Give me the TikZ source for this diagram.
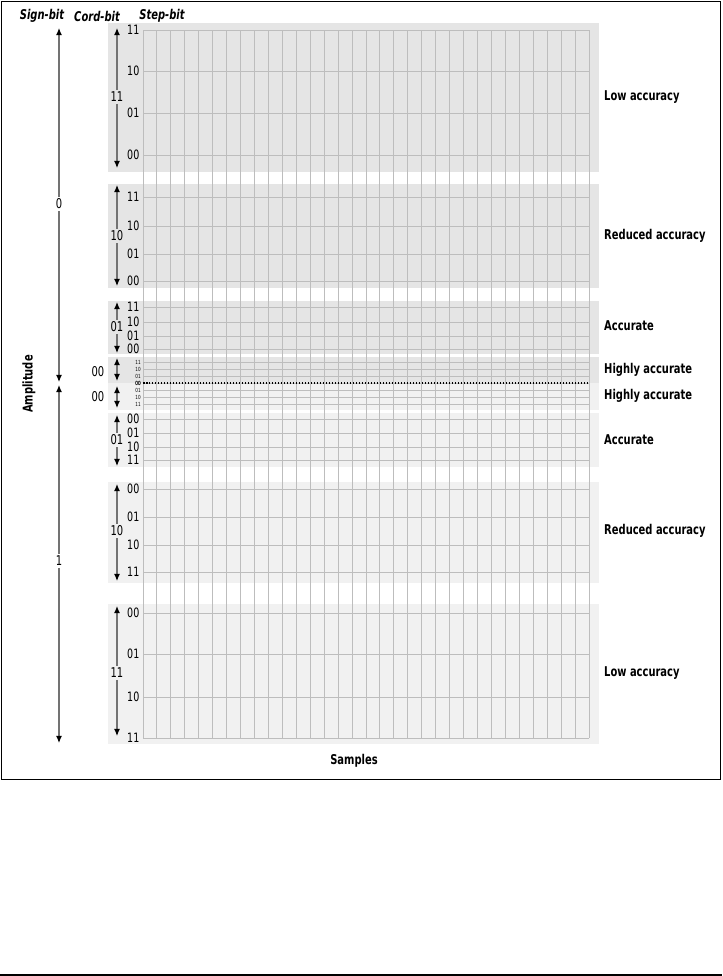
\documentclass[tikz,border=0pt]{standalone}
\usepackage{fontspec}
\newfontfamily\cndfont[FakeStretch=0.82,
  BoldFont={DejaVu Sans Condensed Bold},
  ItalicFont={DejaVu Sans Condensed Oblique},
  BoldItalicFont={DejaVu Sans Condensed Bold Oblique}]{DejaVu Sans Condensed}
\usetikzlibrary{arrows.meta}
\definecolor{bandhi}{gray}{0.9}
\definecolor{bandlo}{gray}{0.945}
\definecolor{gridcol}{gray}{0.74}
\definecolor{arrowcol}{gray}{0.45}

\begin{document}
\begin{tikzpicture}[x=0.03cm, y=-0.03cm, font=\cndfont,
    gridline/.style={gridcol, line width=0.8pt},
    scalearrow/.style={arrowcol, line width=0.9pt, -{Latex[length=6pt,width=5pt,black]}},
    twoway/.style={arrowcol, line width=0.9pt, {Latex[length=6pt,width=5pt,black]}-{Latex[length=6pt,width=5pt,black]}},
    bitlabel/.style={font=\cndfont\fontsize{11.5}{12}\selectfont, inner sep=1.5pt},
    steplabel/.style={font=\cndfont\fontsize{11}{12}\selectfont, inner sep=0pt, anchor=west},
    tinylabel/.style={font=\cndfont\fontsize{4.8}{5}\selectfont, inner sep=0pt, anchor=east},
    acclabel/.style={font=\cndfont\bfseries\fontsize{11.5}{12}\selectfont, inner sep=0pt, anchor=west},
    headlabel/.style={font=\cndfont\bfseries\itshape\fontsize{11.5}{12}\selectfont, inner sep=0pt}]
    \useasboundingbox (0,0) rectangle (722,976);

    % frame
    \draw[line width=0.9pt] (1.5,1.5) rectangle (720.5,779.5);
    \draw[line width=0.9pt] (0,975) -- (722,975);

    % grey bands
    \foreach \top/\bot/\col in {23/172/bandhi, 184/288/bandhi, 301/354/bandhi, 357/383/bandhi,
        383/410/bandlo, 413/467/bandlo, 482/583/bandlo, 604/744/bandlo}
        \fill[\col] (108,\top) rectangle (599,\bot);

    % samples grid
    \foreach \k in {0,...,32}
        \draw[gridline] ({143+\k*13.9375},30) -- ({143+\k*13.9375},738);
    \foreach \y/\lab [count=\n] in {30/11, 71/10, 113/01, 155/00, 197/11, 226/10, 254/01, 281/00,
        307/11, 322/10, 336/01, 349/00, 419/00, 433/01, 447/10, 460/11,
        489/00, 517/01, 545/10, 572/11, 613/00, 654/01, 697/10, 738/11} {
        \draw[gridline] (143,\y) -- (589,\y);
        \node[steplabel] (step\n) at (127,\y) {\lab};
    }
    \foreach \y/\lab [count=\n] in {362/11, 369/10, 376/01, 383/00, 390/01, 397/10, 404/11} {
        \draw[gridline] (143,\y) -- (589,\y);
        \node[tinylabel] (tiny\n) at (141,\y) {\lab};
    }
    \node[tinylabel] (tinyzero) at (141,383) {00};
    \draw[black, line width=1.2pt, dash pattern=on 1.28pt off 1.28pt] (143,383) -- (589,383);

    % sign-bit
    \node[headlabel] (signhead) at (42,16) {Sign-bit};
    \node[bitlabel, fill=white] (sign0) at (59,204) {0};
    \node[bitlabel, fill=white] (sign1) at (59,561) {1};
    \coordinate (s0top) at (59,28);
    \coordinate (s0bot) at (59,382);
    \coordinate (s1top) at (59,385);
    \coordinate (s1bot) at (59,743);
    \draw[scalearrow] (sign0) -- (s0top);
    \draw[scalearrow] (sign0) -- (s0bot);
    \draw[scalearrow] (sign1) -- (s1top);
    \draw[scalearrow] (sign1) -- (s1bot);

    % cord-bit
    \node[headlabel] (cordhead) at (97,16) {Cord-bit};
    \foreach \a/\b/\m/\lab/\col [count=\n] in {28/168/97/11/bandhi, 185/286/236/10/bandhi,
        302/353/327/01/bandhi, 415/466/440/01/bandlo, 484/581/531/10/bandlo, 606/736/673/11/bandlo} {
        \node[bitlabel, fill=\col] (cord\n) at (117,\m) {\lab};
        \coordinate (ctop\n) at (117,\a);
        \coordinate (cbot\n) at (117,\b);
        \draw[scalearrow] (cord\n) -- (ctop\n);
        \draw[scalearrow] (cord\n) -- (cbot\n);
    }
    \coordinate (hitop1) at (117,358);
    \coordinate (hibot1) at (117,381);
    \coordinate (hitop2) at (117,386);
    \coordinate (hibot2) at (117,408);
    \draw[twoway] (hitop1) -- (hibot1);
    \draw[twoway] (hitop2) -- (hibot2);
    \node[bitlabel] (cordhi1) at (98,372) {00};
    \node[bitlabel] (cordhi2) at (98,397) {00};

    % step-bit
    \node[headlabel] (stephead) at (162,16) {Step-bit};

    % accuracy
    \node[acclabel] (acc1) at (604,97) {Low accuracy};
    \node[acclabel] (acc2) at (604,236) {Reduced accuracy};
    \node[acclabel] (acc3) at (604,326) {Accurate};
    \node[acclabel] (acc4) at (604,370) {Highly accurate};
    \node[acclabel] (acc5) at (604,396) {Highly accurate};
    \node[acclabel] (acc6) at (604,440) {Accurate};
    \node[acclabel] (acc7) at (604,531) {Reduced accuracy};
    \node[acclabel] (acc8) at (604,673) {Low accuracy};

    % axes
    \node[acclabel, anchor=center, rotate=90] (amp) at (29,384) {Amplitude};
    \node[acclabel, anchor=center] (samples) at (354,761) {Samples};
\end{tikzpicture}
\end{document}
